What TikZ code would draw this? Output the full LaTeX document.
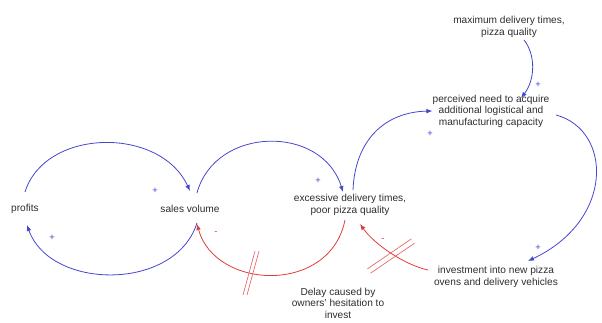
\documentclass[tikz,border=0pt]{standalone}
\usepackage{fontspec}
\setmainfont{Liberation Sans}
\usetikzlibrary{arrows.meta,calc}
\definecolor{lnblue}{RGB}{70,70,205}
\definecolor{lnred}{RGB}{225,60,60}
\definecolor{txt}{RGB}{45,45,45}
\tikzset{
  var/.style={align=center,text=txt,font=\fontsize{7.6}{8.7}\selectfont,inner sep=0pt},
  poslink/.style={draw=lnblue,line width=0.6pt,-{Latex[length=4.5pt,width=3.5pt]}},
  neglink/.style={draw=lnred,line width=0.6pt,-{Latex[length=4.5pt,width=3.5pt]}},
  pol/.style={font=\fontsize{7}{8}\selectfont,inner sep=0pt},
  delaymark/.style={draw=lnred!80,line width=0.5pt}
}
\begin{document}
\begin{tikzpicture}[x=0.75pt,y=-0.75pt]
\useasboundingbox (0,0) rectangle (602,323);
\node[var] (profits) at (25,209) {profits};
\node[var] (sales) at (190,209) {sales volume};
\node[var] (excess) at (350,205) {excessive delivery times,\\poor pizza quality};
\node[var] (maxdel) at (509,27) {maximum delivery times,\\pizza quality};
\node[var] (need) at (491,111) {perceived need to acquire\\additional logistical and\\manufacturing capacity};
\node[var] (invest) at (496,277) {investment into new pizza\\ovens and delivery vehicles};
\node[var] (delay) at (338,303) {Delay caused by\\owners' hesitation to\\invest};

% left loop
\draw[poslink] ([shift={(0,-17)}]profits.center) .. controls (45,128) and (160,126) .. ([shift={(0,-18)}]sales.center);
\draw[poslink] ([shift={(7,14)}]sales.center) .. controls (175,292) and (50,290) .. ([shift={(2,16)}]profits.center);
% middle loop
\draw[poslink] ([shift={(7,-16)}]sales.center) .. controls (215,126) and (322,124) .. ([shift={(-7,-13)}]excess.center);
\draw[neglink] ([shift={(-5,15)}]excess.center) .. controls (330,295) and (215,290) .. ([shift={(7,15)}]sales.center);
% right side
\draw[poslink] ([shift={(3,-15)}]excess.center) .. controls (355,140) and (385,112) .. (need.west);
\draw[poslink] ([shift={(15,13)}]maxdel.center) .. controls (536,55) and (535,80) .. ([shift={(30,-13)}]need.center);
\draw[poslink] ([shift={(65,4)}]need.center) .. controls (612,130) and (615,220) .. ([shift={(32,-16)}]invest.center);
\draw[neglink] ([shift={(-68,-7)}]invest.center) .. controls (405,265) and (375,245) .. ([shift={(10,19)}]excess.center);

% delay marks
\coordinate (d1) at (251,273);
\draw[delaymark] ($(d1)+(-2,0)+(6,-22)$) -- ($(d1)+(-2,0)+(-6,22)$);
\draw[delaymark] ($(d1)+(2,0)+(6,-22)$) -- ($(d1)+(2,0)+(-6,22)$);
\coordinate (d2) at (391,256);
\draw[delaymark] ($(d2)+(-1.5,-2.2)+(22,-15)$) -- ($(d2)+(-1.5,-2.2)+(-22,15)$);
\draw[delaymark] ($(d2)+(1.5,2.2)+(22,-15)$) -- ($(d2)+(1.5,2.2)+(-22,15)$);

% polarities
\node[pol,text=lnblue] (p1) at (155,191) {+};
\node[pol,text=lnblue] (p2) at (52,238) {+};
\node[pol,text=lnblue] (p3) at (318,181) {+};
\node[pol,text=lnred] (p4) at (216,233) {-};
\node[pol,text=lnred] (p5) at (383,240) {-};
\node[pol,text=lnblue] (p6) at (430,134) {+};
\node[pol,text=lnblue] (p7) at (538,85) {+};
\node[pol,text=lnblue] (p8) at (538,248) {+};
\end{tikzpicture}
\end{document}
